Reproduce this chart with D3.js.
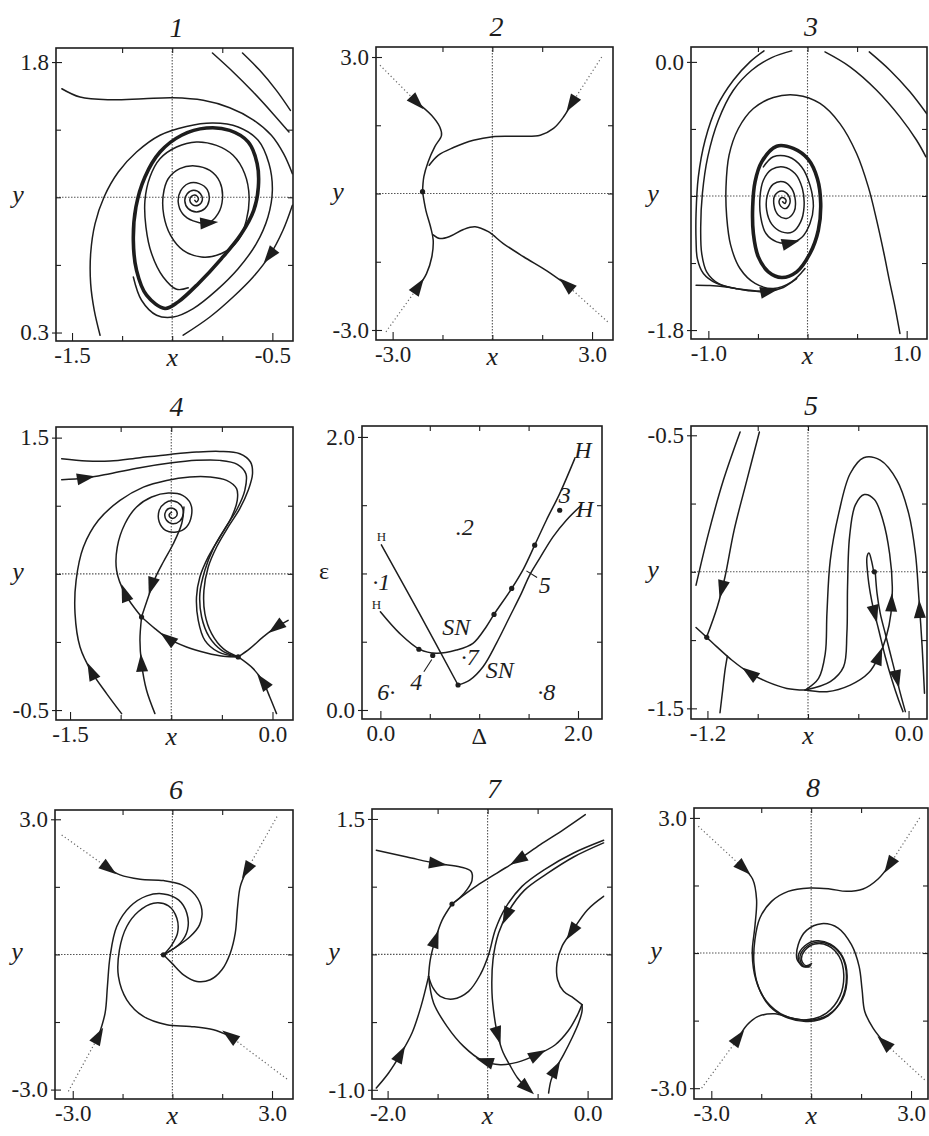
<!DOCTYPE html>
<html>
<head>
<meta charset="utf-8">
<script src="https://cdn.jsdelivr.net/npm/d3@7"></script>
<style>
  html, body { margin: 0; padding: 0; background: #fff; }
  svg { display: block; }
</style>
</head>
<body>
<svg id="fig" width="929" height="1136"></svg>
<script>
// ---------- Panel 1: limit cycle around a focus ----------
const p1X = [-1.58, -0.397], p1Y = [0.253, 1.878];
const p1XTicks = [-1.5, -0.5], p1YTicks = [0.3, 1.8];
const p1Cycle = [[-1.036,0.433],[-1.128,0.507],[-1.178,0.645],[-1.194,0.811],[-1.181,0.996],[-1.136,1.163],[-1.061,1.301],[-0.953,1.394],[-0.829,1.434],[-0.713,1.421],[-0.621,1.357],[-0.576,1.237],[-0.570,1.107],[-0.593,0.978],[-0.655,0.848],[-0.754,0.710],[-0.870,0.571],[-0.970,0.470]];
const p1Spiral = [[-0.887,1.033],[-0.879,1.024],[-0.869,1.041],[-0.882,1.061],[-0.904,1.055],[-0.912,1.033],[-0.899,1.009],[-0.870,1.006],[-0.850,1.033],[-0.859,1.070],[-0.892,1.089],[-0.925,1.070],[-0.937,1.030],[-0.920,0.987],[-0.879,0.969],[-0.837,0.987],[-0.816,1.033],[-0.825,1.092],[-0.865,1.126],[-0.920,1.126],[-0.958,1.085],[-0.970,1.024],[-0.948,0.959],[-0.895,0.919],[-0.820,0.908],[-0.771,0.959],[-0.749,1.042],[-0.762,1.135],[-0.812,1.199],[-0.887,1.224],[-0.962,1.209],[-1.020,1.153],[-1.045,1.061],[-1.042,0.950],[-1.008,0.839],[-0.945,0.756],[-0.854,0.719],[-0.754,0.738],[-0.671,0.811],[-0.630,0.922],[-0.616,1.052],[-0.638,1.181],[-0.696,1.283],[-0.779,1.338],[-0.879,1.357],[-0.978,1.329],[-1.061,1.264],[-1.111,1.163],[-1.136,1.033],[-1.131,0.885],[-1.103,0.738],[-1.045,0.608],[-0.978,0.540],[-0.920,0.548]];
const p1OuterArc = [[-1.360,0.285],[-1.389,0.423],[-1.407,0.571],[-1.407,0.738],[-1.385,0.904],[-1.340,1.052],[-1.269,1.190],[-1.178,1.301],[-1.061,1.394],[-0.929,1.443],[-0.796,1.462],[-0.671,1.440],[-0.571,1.366],[-0.517,1.237],[-0.500,1.089],[-0.522,0.941],[-0.580,0.793],[-0.671,0.654],[-0.779,0.534],[-0.895,0.433],[-0.995,0.386],[-1.078,0.396],[-1.153,0.479],[-1.194,0.608]];
const p1TopLeft = [[-1.551,1.652],[-1.460,1.606],[-1.310,1.591],[-1.144,1.597],[-0.995,1.602],[-0.845,1.588],[-0.713,1.547],[-0.596,1.480],[-0.505,1.394],[-0.444,1.292],[-0.400,1.181]];
const p1Right = [[-0.400,1.006],[-0.447,0.867],[-0.513,0.728],[-0.596,0.608],[-0.696,0.497],[-0.812,0.386],[-0.945,0.285]];
const p1TopRightA = [[-0.799,1.850],[-0.696,1.745],[-0.596,1.634],[-0.497,1.514],[-0.417,1.412]];
const p1TopRightB = [[-0.649,1.850],[-0.563,1.754],[-0.480,1.643],[-0.410,1.532]];
const p1Arrows = [[-0.820,0.908,-0.775,0.912],[-0.513,0.728,-0.596,0.608]];

// ---------- Panel 2: stable node with four incoming orbits ----------
const p2X = [-3.50, 3.63], p2Y = [-3.22, 3.22];
const p2XTicks = [-3.0, 3.0], p2YTicks = [-3.0, 3.0];
const p2Dotted = [[[-3.38,2.82],[-2.28,2.01]],[[3.29,3.00],[2.39,1.98]],[[-3.20,-3.04],[-2.23,-2.05]],[[3.47,-2.82],[2.24,-2.01]]];
const p2UpperLeft = [[-2.28,2.01],[-1.83,1.72],[-1.58,1.46],[-1.53,1.28],[-1.73,1.03],[-1.93,0.70],[-2.06,0.37],[-2.10,0.04]];
const p2LowerLeft = [[-2.23,-2.05],[-1.98,-1.76],[-1.82,-1.39],[-1.78,-1.02],[-1.86,-0.73],[-2.00,-0.37],[-2.10,0.04]];
const p2LowerRight = [[2.24,-2.01],[1.64,-1.70],[0.94,-1.39],[0.33,-1.10],[-0.12,-0.84],[-0.52,-0.73],[-0.87,-0.79],[-1.27,-0.94],[-1.58,-0.99],[-1.78,-0.91]];
const p2UpperRight = [[2.39,1.98],[2.14,1.68],[1.84,1.43],[1.44,1.28],[0.73,1.26],[0.01,1.25],[-0.57,1.17],[-1.17,1.01],[-1.63,0.84],[-1.90,0.62]];
const p2Arrows = [[-2.28,2.01,-2.00,1.80],[2.39,1.98,2.20,1.76],[-2.23,-2.05,-2.00,-1.80],[2.24,-2.01,1.95,-1.82]];
const p2Dots = [[-2.10,0.04]];

// ---------- Panel 3: focus inside a limit cycle ----------
const p3X = [-1.175, 1.205], p3Y = [-1.86, 0.10];
const p3XTicks = [-1.0, 1.0], p3YTicks = [-1.8, 0.0];
const p3Cycle = [[-0.311,-0.566],[-0.143,-0.581],[0.008,-0.655],[0.099,-0.783],[0.133,-0.950],[0.109,-1.130],[0.025,-1.286],[-0.109,-1.409],[-0.261,-1.447],[-0.395,-1.409],[-0.496,-1.309],[-0.546,-1.152],[-0.553,-0.973],[-0.529,-0.805],[-0.462,-0.671]];
const p3Spiral = [[-0.251,-0.939],[-0.227,-0.950],[-0.217,-0.928],[-0.251,-0.910],[-0.284,-0.928],[-0.271,-0.968],[-0.217,-0.984],[-0.177,-0.946],[-0.193,-0.895],[-0.261,-0.866],[-0.328,-0.895],[-0.338,-0.962],[-0.294,-1.029],[-0.210,-1.051],[-0.136,-1.006],[-0.123,-0.928],[-0.160,-0.850],[-0.244,-0.805],[-0.345,-0.821],[-0.405,-0.895],[-0.412,-0.995],[-0.361,-1.089],[-0.261,-1.141],[-0.150,-1.141],[-0.069,-1.074],[-0.035,-0.973],[-0.052,-0.850],[-0.126,-0.749],[-0.244,-0.705],[-0.361,-0.722],[-0.445,-0.794],[-0.479,-0.906],[-0.472,-1.040],[-0.419,-1.152],[-0.311,-1.208],[-0.177,-1.215],[-0.059,-1.179],[0.025,-1.085],[0.059,-0.973],[0.025,-0.828],[-0.059,-0.705],[-0.193,-0.637],[-0.345,-0.637],[-0.445,-0.705]];
const p3ArcA = [[-0.439,0.074],[-0.580,0.000],[-0.748,-0.123],[-0.916,-0.302],[-1.033,-0.526],[-1.101,-0.772],[-1.124,-1.018],[-1.124,-1.197],[-1.111,-1.320],[-1.050,-1.420],[-0.916,-1.487],[-0.714,-1.523],[-0.513,-1.537],[-0.395,-1.539],[-0.244,-1.514],[-0.109,-1.454]];
const p3ArcB = [[-0.160,0.074],[-0.361,0.029],[-0.563,-0.056],[-0.748,-0.190],[-0.899,-0.391],[-1.006,-0.637],[-1.060,-0.883],[-1.077,-1.107],[-1.067,-1.286],[-1.017,-1.409],[-0.899,-1.487],[-0.714,-1.523]];
const p3Left = [[-1.124,-1.499],[-0.983,-1.501],[-0.781,-1.514],[-0.580,-1.537],[-0.412,-1.546]];
const p3ArcC = [[0.932,-1.823],[0.882,-1.644],[0.825,-1.465],[0.771,-1.286],[0.697,-1.062],[0.613,-0.839],[0.495,-0.615],[0.327,-0.414],[0.126,-0.279],[-0.109,-0.224],[-0.345,-0.239],[-0.546,-0.313],[-0.697,-0.447],[-0.791,-0.626],[-0.822,-0.839],[-0.815,-1.040],[-0.775,-1.230],[-0.681,-1.387],[-0.529,-1.487],[-0.345,-1.521],[-0.160,-1.476],[-0.025,-1.387]];
const p3TopRightA = [[0.176,0.067],[0.428,-0.033],[0.697,-0.190],[0.932,-0.369],[1.100,-0.526],[1.194,-0.637]];
const p3TopRightB = [[0.623,0.067],[0.831,-0.056],[1.033,-0.201],[1.201,-0.347]];
const p3Arrows = [[-0.177,-1.215,-0.090,-1.200],[-0.395,-1.539,-0.270,-1.522]];

// ---------- Panel 4: focus, saddle and node ----------
const p4X = [-1.604, 0.152], p4Y = [-0.573, 1.578];
const p4XTicks = [-1.5, 0.0], p4YTicks = [-0.5, 1.5];
const p4Top = [[-1.562,1.345],[-1.377,1.328],[-1.204,1.328],[-0.982,1.353],[-0.760,1.377],[-0.563,1.394],[-0.390,1.399],[-0.242,1.382],[-0.163,1.321],[-0.148,1.235],[-0.180,1.113],[-0.242,0.978],[-0.328,0.844],[-0.414,0.697],[-0.476,0.550],[-0.508,0.379],[-0.501,0.208],[-0.451,0.061],[-0.365,-0.049],[-0.254,-0.110]];
const p4Second = [[-1.562,1.191],[-1.389,1.203],[-1.204,1.235],[-0.982,1.279],[-0.760,1.313],[-0.563,1.333],[-0.390,1.333],[-0.261,1.304],[-0.197,1.235],[-0.205,1.113],[-0.261,0.978],[-0.353,0.832],[-0.439,0.685],[-0.501,0.526],[-0.538,0.355],[-0.525,0.183],[-0.469,0.037],[-0.377,-0.061],[-0.254,-0.110]];
const p4Outer = [[-1.118,-0.526],[-1.229,-0.379],[-1.340,-0.220],[-1.426,-0.037],[-1.463,0.208],[-1.455,0.452],[-1.401,0.697],[-1.290,0.893],[-1.130,1.039],[-0.957,1.137],[-0.785,1.186],[-0.612,1.211],[-0.464,1.211],[-0.340,1.186],[-0.266,1.125],[-0.261,1.039],[-0.303,0.917],[-0.390,0.770],[-0.476,0.624],[-0.538,0.477],[-0.563,0.330],[-0.550,0.159],[-0.501,0.012],[-0.402,-0.073],[-0.254,-0.110]];
const p4ToFocus = [[-0.970,0.183],[-1.093,0.355],[-1.155,0.526],[-1.150,0.697],[-1.093,0.868],[-1.007,0.991],[-0.895,1.064],[-0.772,1.093],[-0.666,1.076],[-0.607,1.015],[-0.600,0.929],[-0.637,0.844],[-0.711,0.807],[-0.792,0.819],[-0.839,0.880],[-0.839,0.966],[-0.797,1.020],[-0.735,1.035],[-0.678,1.003],[-0.661,0.942],[-0.686,0.888],[-0.740,0.868],[-0.785,0.893],[-0.797,0.942],[-0.772,0.978],[-0.730,0.978],[-0.706,0.946],[-0.723,0.912],[-0.755,0.912],[-0.765,0.937],[-0.748,0.951]];
const p4FromAbove = [[-0.656,0.991],[-0.673,0.868],[-0.735,0.721],[-0.809,0.587],[-0.871,0.465],[-0.933,0.293],[-0.970,0.183]];
const p4FromBelow = [[-0.871,-0.526],[-0.933,-0.355],[-0.970,-0.159],[-0.982,0.012],[-0.970,0.183]];
const p4Link = [[-0.970,0.183],[-0.871,0.098],[-0.772,0.024],[-0.637,-0.037],[-0.488,-0.081],[-0.365,-0.105],[-0.254,-0.110]];
const p4FromRight = [[0.116,0.159],[0.030,0.110],[-0.069,0.037],[-0.168,-0.049],[-0.254,-0.110]];
const p4FromBottom = [[0.030,-0.526],[-0.020,-0.404],[-0.069,-0.294],[-0.143,-0.196],[-0.254,-0.110]];
const p4Arrows = [[-1.389,1.203,-1.204,1.235],[-0.895,0.416,-0.933,0.293],[-1.093,0.355,-1.155,0.526],[-0.772,0.024,-0.871,0.098],[-1.340,-0.220,-1.426,-0.037],[-0.970,-0.159,-0.982,0.012],[-0.069,-0.294,-0.143,-0.196],[0.030,0.110,-0.069,0.037]];
const p4Dots = [[-0.970,0.183],[-0.254,-0.110]];

// ---------- Bifurcation diagram in the (Δ, ε) plane ----------
const epsX = [-0.186, 2.243], epsY = [-0.066, 2.08];
const epsXTicks = [0.0, 2.0], epsYTicks = [0.0, 2.0];
const epsHopfLeft = [[0.01,1.21],[0.40,0.70],[0.786,0.183]];
const epsUpper = [[0.0,0.719],[0.195,0.561],[0.398,0.444],[0.567,0.415],[0.769,0.439],[0.937,0.488],[1.072,0.610],[1.150,0.700],[1.329,0.890],[1.450,1.036],[1.562,1.207],[1.680,1.390],[1.815,1.585],[1.967,1.841]];
const epsLower = [[0.786,0.183],[0.904,0.219],[1.039,0.317],[1.174,0.488],[1.309,0.683],[1.427,0.854],[1.511,0.988],[1.612,1.110],[1.747,1.268],[1.882,1.390],[2.034,1.500]];
const epsCurveDots = [[1.150,0.700],[1.329,0.890],[1.562,1.207],[0.786,0.183],[0.39,0.445],[0.53,0.40],[1.815,1.463]];
const epsLabels = [["·1",0.01,0.94],[".2",0.853,1.341],["3",1.865,1.573],["4",0.364,0.207],["5",1.663,0.914],["6·",0.06,0.134],["·7",0.904,0.385],["·8",1.680,0.134],["SN",0.769,0.610],["SN",1.207,0.293],["H",2.051,1.902],["H",2.068,1.475]];
const epsSmallLabels = [["H",0.01,1.268],["H",-0.04,0.775]];
const epsLeaders = [[[0.44,0.28],[0.52,0.37]],[[1.478,1.019],[1.586,0.970]]];

// ---------- Panel 5 ----------
const p5X = [-1.298, 0.110], p5Y = [-1.539, -0.466];
const p5XTicks = [-1.2, 0.0], p5YTicks = [-1.5, -0.5];
const p5LineA = [[-1.005,-0.488],[-1.105,-0.665],[-1.194,-0.860],[-1.268,-1.049]];
const p5LineB = [[-0.890,-0.488],[-0.965,-0.665],[-1.041,-0.848],[-1.095,-1.018],[-1.141,-1.128],[-1.204,-1.238]];
const p5Bottom = [[-0.617,-1.433],[-0.726,-1.427],[-0.846,-1.402],[-0.945,-1.372],[-1.055,-1.323],[-1.145,-1.274],[-1.204,-1.240],[-1.268,-1.204]];
const p5Stub = [[-1.125,-1.516],[-1.109,-1.433],[-1.095,-1.360],[-1.081,-1.309]];
const p5OuterLoop = [[0.095,-1.445],[0.081,-1.274],[0.061,-1.091],[0.041,-0.933],[0.001,-0.787],[-0.069,-0.665],[-0.169,-0.591],[-0.268,-0.582],[-0.348,-0.640],[-0.417,-0.787],[-0.467,-0.957],[-0.487,-1.152],[-0.497,-1.299],[-0.537,-1.390],[-0.617,-1.433]];
const p5InnerLoop = [[-0.617,-1.433],[-0.487,-1.439],[-0.348,-1.415],[-0.238,-1.370],[-0.178,-1.311],[-0.133,-1.238],[-0.105,-1.152],[-0.097,-1.055],[-0.113,-0.933],[-0.153,-0.811],[-0.204,-0.735],[-0.264,-0.717],[-0.318,-0.756],[-0.352,-0.872],[-0.364,-1.055],[-0.368,-1.226],[-0.388,-1.348],[-0.467,-1.402],[-0.617,-1.433]];
const p5FocusA = [[-0.208,-1.000],[-0.222,-0.957],[-0.236,-0.931],[-0.248,-0.945],[-0.244,-1.006],[-0.228,-1.079],[-0.208,-1.140],[-0.178,-1.213],[-0.139,-1.311],[-0.099,-1.396],[-0.059,-1.470],[-0.033,-1.512]];
const p5FocusB = [[-0.198,-1.006],[-0.188,-1.079],[-0.169,-1.152],[-0.139,-1.226],[-0.109,-1.299],[-0.079,-1.372],[-0.049,-1.445],[-0.019,-1.512]];
const p5Arrows = [[-1.113,-1.061,-1.141,-1.128],[-0.945,-1.372,-1.055,-1.323],[0.066,-1.140,0.058,-1.000],[-0.102,-1.116,-0.098,-1.050],[-0.178,-1.311,-0.133,-1.238],[-0.203,-1.152,-0.178,-1.213],[-0.070,-1.390,-0.050,-1.445]];
const p5Dots = [[-1.204,-1.240],[-0.204,-1.000]];

// ---------- Panel 6 ----------
const p6X = [-3.534, 3.632], p6Y = [-3.209, 3.206];
const p6XTicks = [-3.0, 3.0], p6YTicks = [-3.0, 3.0];
const p6Dotted = [[[-3.333,2.652],[-1.926,1.913]],[[3.150,3.059],[2.245,1.876]],[[-3.132,-3.039],[-2.227,-1.820]],[[3.451,-2.766],[1.743,-1.820]]];
const p6UpperLeft = [[-1.926,1.913],[-1.574,1.765],[-0.971,1.669],[-0.268,1.639],[0.285,1.543],[0.687,1.322],[0.888,0.989],[0.818,0.657],[0.537,0.398],[0.135,0.176],[-0.268,-0.009]];
const p6LowerLeft = [[-2.227,-1.820],[-2.026,-1.302],[-1.956,-0.711],[-1.876,-0.046],[-1.675,0.620],[-1.272,1.063],[-0.770,1.300],[-0.268,1.344],[0.185,1.211],[0.436,0.915],[0.456,0.546],[0.235,0.250],[-0.268,-0.009]];
const p6LowerRight = [[1.743,-1.820],[1.240,-1.672],[0.537,-1.598],[-0.167,-1.561],[-0.871,-1.376],[-1.373,-1.007],[-1.624,-0.489],[-1.594,0.102],[-1.373,0.620],[-1.021,0.952],[-0.569,1.137],[-0.117,1.078],[0.135,0.804],[0.155,0.472],[-0.016,0.213],[-0.268,-0.009]];
const p6UpperRight = [[2.245,1.876],[2.044,1.506],[1.964,1.063],[1.893,0.472],[1.743,0.028],[1.491,-0.341],[1.140,-0.563],[0.738,-0.600],[0.336,-0.452],[-0.016,-0.193],[-0.268,-0.009]];
const p6Arrows = [[-1.926,1.913,-1.65,1.76],[2.245,1.876,2.10,1.69],[-2.227,-1.820,-2.08,-1.62],[1.743,-1.820,1.45,-1.66]];
const p6Dots = [[-0.268,-0.009]];

// ---------- Panel 7 ----------
const p7X = [-2.156, 0.244], p7Y = [-1.085, 1.592];
const p7XTicks = [-2.0, 0.0], p7YTicks = [-1.0, 1.5];
const p7FromLeft = [[-2.113,1.211],[-1.806,1.149],[-1.506,1.088],[-1.273,1.057],[-1.166,1.017],[-1.156,0.934],[-1.206,0.848],[-1.280,0.771],[-1.356,0.715]];
const p7FromTop = [[-0.023,1.540],[-0.240,1.402],[-0.473,1.263],[-0.690,1.125],[-0.906,1.001],[-1.106,0.885],[-1.256,0.786],[-1.356,0.715]];
const p7Rise = [[-1.590,0.047],[-1.573,0.201],[-1.523,0.386],[-1.456,0.564],[-1.356,0.715]];
const p7FromCorner = [[-2.113,-0.984],[-1.990,-0.845],[-1.873,-0.676],[-1.756,-0.476],[-1.666,-0.230],[-1.590,0.047]];
const p7Bottom = [[-1.590,0.047],[-1.540,-0.199],[-1.406,-0.414],[-1.240,-0.599],[-1.056,-0.728],[-0.873,-0.768],[-0.706,-0.747],[-0.506,-0.676],[-0.323,-0.584],[-0.190,-0.451],[-0.100,-0.307],[-0.056,-0.214]];
const p7BandA = [[0.160,1.279],[-0.140,1.149],[-0.406,0.995],[-0.633,0.841],[-0.790,0.648],[-0.890,0.447],[-0.946,0.201],[-0.956,-0.107],[-0.933,-0.322],[-0.900,-0.491],[-0.846,-0.654],[-0.780,-0.768],[-0.700,-0.891],[-0.590,-0.999]];
const p7BandB = [[0.160,1.303],[-0.140,1.186],[-0.423,1.038],[-0.656,0.878],[-0.823,0.678],[-0.923,0.478],[-0.990,0.247],[-1.073,0.063],[-1.190,-0.091],[-1.346,-0.162],[-1.473,-0.137],[-1.546,-0.060],[-1.590,0.047]];
const p7Right = [[0.160,0.786],[0.000,0.663],[-0.156,0.463],[-0.256,0.324],[-0.306,0.170],[-0.300,0.016],[-0.240,-0.091],[-0.140,-0.153],[-0.056,-0.214]];
const p7FromBelow = [[-0.390,-1.030],[-0.366,-0.913],[-0.323,-0.814],[-0.240,-0.676],[-0.156,-0.522],[-0.090,-0.384],[-0.056,-0.276],[-0.056,-0.214]];
const p7Arrows = [[-1.506,1.088,-1.273,1.057],[-0.690,1.125,-0.906,1.001],[-1.523,0.386,-1.456,0.564],[-1.873,-0.676,-1.756,-0.476],[-1.023,-0.737,-1.150,-0.700],[-0.506,-0.676,-0.323,-0.584],[-0.810,0.610,-0.890,0.447],[-0.900,-0.491,-0.846,-0.654],[-0.610,-0.980,-0.550,-1.030],[-0.156,0.463,-0.256,0.324],[-0.323,-0.814,-0.240,-0.676]];
const p7Dots = [[-1.356,0.715]];

// ---------- Panel 8 ----------
const p8X = [-3.52, 3.51], p8Y = [-3.24, 3.22];
const p8XTicks = [-3.0, 3.0], p8YTicks = [-3.0, 3.0];
const p8Dotted = [[[-3.39,2.815],[-2.04,1.889]],[[3.26,3.00],[2.36,1.963]],[[-3.29,-3.00],[-2.19,-1.889]],[[3.41,-2.815],[2.21,-2.00]]];
const p8UpperLeft = [[-2.04,1.889],[-1.76,1.644],[-1.64,1.185],[-1.69,0.592],[-1.77,0.000],[-1.66,-0.593],[-1.34,-1.074],[-0.79,-1.393],[-0.14,-1.482],[0.46,-1.333],[0.86,-0.963],[0.98,-0.481],[0.84,-0.074],[0.51,0.163],[0.11,0.200],[-0.19,0.059],[-0.29,-0.148],[-0.16,-0.282],[0.01,-0.237]];
const p8UpperRight = [[2.36,1.963],[2.01,1.644],[1.56,1.422],[1.06,1.370],[0.56,1.422],[-0.04,1.444],[-0.69,1.370],[-1.19,1.148],[-1.54,0.778],[-1.69,0.296],[-1.72,-0.222],[-1.59,-0.741],[-1.24,-1.185],[-0.69,-1.444],[-0.09,-1.518],[0.51,-1.393],[0.91,-1.037],[1.06,-0.519],[0.91,-0.059],[0.56,0.185],[0.14,0.237],[-0.19,0.111],[-0.34,-0.111],[-0.22,-0.296],[-0.02,-0.282]];
const p8LowerLeft = [[-2.19,-1.889],[-1.92,-1.593],[-1.59,-1.407],[-1.09,-1.348],[-0.59,-1.444],[-0.04,-1.496],[0.51,-1.370],[0.94,-1.022],[1.08,-0.504],[0.94,-0.074],[0.58,0.200],[0.16,0.274],[-0.19,0.163],[-0.39,-0.074],[-0.29,-0.282],[-0.06,-0.311]];
const p8LowerRight = [[2.21,-2.000],[1.86,-1.667],[1.61,-1.296],[1.53,-0.815],[1.44,-0.296],[1.21,0.185],[0.81,0.556],[0.31,0.652],[-0.14,0.504],[-0.39,0.185],[-0.42,-0.148],[-0.24,-0.296]];
const p8Arrows = [[-2.04,1.889,-1.77,1.70],[2.36,1.963,2.20,1.78],[-2.19,-1.889,-2.00,-1.70],[2.21,-2.00,1.95,-1.82]];

// ---------- Panel registry and layout ----------
const panels = [
  { key: "1", title: "1", xDomain: p1X, yDomain: p1Y, xTicks: p1XTicks, yTicks: p1YTicks, cross: true,
    cycles: [p1Cycle], curves: [p1Spiral, p1OuterArc, p1TopLeft, p1Right, p1TopRightA, p1TopRightB], dotted: [], arrows: p1Arrows, dots: [] },
  { key: "2", title: "2", xDomain: p2X, yDomain: p2Y, xTicks: p2XTicks, yTicks: p2YTicks, cross: true,
    cycles: [], curves: [p2UpperLeft, p2LowerLeft, p2LowerRight, p2UpperRight], dotted: p2Dotted, arrows: p2Arrows, dots: p2Dots },
  { key: "3", title: "3", xDomain: p3X, yDomain: p3Y, xTicks: p3XTicks, yTicks: p3YTicks, cross: true,
    cycles: [p3Cycle], curves: [p3Spiral, p3ArcA, p3ArcB, p3Left, p3ArcC, p3TopRightA, p3TopRightB], dotted: [], arrows: p3Arrows, dots: [] },
  { key: "4", title: "4", xDomain: p4X, yDomain: p4Y, xTicks: p4XTicks, yTicks: p4YTicks, cross: true,
    cycles: [], curves: [p4Top, p4Second, p4Outer, p4ToFocus, p4FromAbove, p4FromBelow, p4Link, p4FromRight, p4FromBottom], dotted: [], arrows: p4Arrows, dots: p4Dots },
  { key: "eps", title: "", xDomain: epsX, yDomain: epsY, xTicks: epsXTicks, yTicks: epsYTicks, cross: false,
    cycles: [], curves: [epsHopfLeft, epsUpper, epsLower], dotted: [], arrows: [], dots: epsCurveDots, xLabel: "Δ", yLabel: "ε" },
  { key: "5", title: "5", xDomain: p5X, yDomain: p5Y, xTicks: p5XTicks, yTicks: p5YTicks, cross: true,
    cycles: [], curves: [p5LineA, p5LineB, p5Bottom, p5Stub, p5OuterLoop, p5InnerLoop, p5FocusA, p5FocusB], dotted: [], arrows: p5Arrows, dots: p5Dots },
  { key: "6", title: "6", xDomain: p6X, yDomain: p6Y, xTicks: p6XTicks, yTicks: p6YTicks, cross: true,
    cycles: [], curves: [p6UpperLeft, p6LowerLeft, p6LowerRight, p6UpperRight], dotted: p6Dotted, arrows: p6Arrows, dots: p6Dots },
  { key: "7", title: "7", xDomain: p7X, yDomain: p7Y, xTicks: p7XTicks, yTicks: p7YTicks, cross: true,
    cycles: [], curves: [p7FromLeft, p7FromTop, p7Rise, p7FromCorner, p7Bottom, p7BandA, p7BandB, p7Right, p7FromBelow], dotted: [], arrows: p7Arrows, dots: p7Dots },
  { key: "8", title: "8", xDomain: p8X, yDomain: p8Y, xTicks: p8XTicks, yTicks: p8YTicks, cross: true,
    cycles: [], curves: [p8UpperLeft, p8UpperRight, p8LowerLeft, p8LowerRight], dotted: p8Dotted, arrows: p8Arrows, dots: [] }
];

// frame boxes [left, top, right, bottom] in page pixels
const panelBoxes = [
  [56, 48, 293, 341], [376, 47, 613, 340], [691, 47, 927, 339],
  [56, 427, 293, 720], [362, 426, 602, 719], [691, 426, 927, 719],
  [55, 810, 293, 1099], [372, 809, 612, 1099], [694, 808, 928, 1099]
];

const FONT = "'Liberation Serif','Times New Roman',serif";
const INK = "#1d1d1d";
const svg = d3.select("#fig");
const defs = svg.append("defs");

const quarters = t => [0.25, 0.5, 0.75].map(f => t[0] + (t[1] - t[0]) * f);
const fmt = d => d.toFixed(1);

function styleAxis(g, size) {
  g.select(".domain").remove();
  g.attr("font-family", FONT).attr("font-size", size).attr("color", INK);
  g.selectAll(".tick line").attr("stroke-width", 1.1);
}

function drawPanel(p, box) {
  const [L, T, R, B] = box;
  const sx = d3.scaleLinear().domain(p.xDomain).range([L, R]);
  const sy = d3.scaleLinear().domain(p.yDomain).range([B, T]);
  const clipId = "clip-" + p.key;
  defs.append("clipPath").attr("id", clipId)
    .append("rect").attr("x", L).attr("y", T).attr("width", R - L).attr("height", B - T);

  const g = svg.append("g").attr("class", "panel-" + p.key);
  const plot = g.append("g").attr("clip-path", `url(#${clipId})`);

  const xMid = (p.xTicks[0] + p.xTicks[1]) / 2;
  const yMid = (p.yTicks[0] + p.yTicks[1]) / 2;

  // dotted cross-hair through the centre of the labelled range
  if (p.cross) {
    plot.append("line").attr("x1", sx(xMid)).attr("x2", sx(xMid)).attr("y1", T).attr("y2", B)
      .attr("stroke", "#555").attr("stroke-width", 1.1).attr("stroke-dasharray", "1.5,1.5");
    plot.append("line").attr("x1", L).attr("x2", R).attr("y1", sy(yMid)).attr("y2", sy(yMid))
      .attr("stroke", "#555").attr("stroke-width", 1.1).attr("stroke-dasharray", "1.5,1.5");
  }

  const open = d3.line().x(d => sx(d[0])).y(d => sy(d[1])).curve(d3.curveCatmullRom.alpha(0.5));
  const closed = d3.line().x(d => sx(d[0])).y(d => sy(d[1])).curve(d3.curveCatmullRomClosed.alpha(0.5));
  const straight = d3.line().x(d => sx(d[0])).y(d => sy(d[1]));

  p.dotted.forEach(c => plot.append("path").attr("d", straight(c)).attr("fill", "none")
    .attr("stroke", "#666").attr("stroke-width", 1.2).attr("stroke-dasharray", "1.2,2.6"));

  p.cycles.forEach(c => plot.append("path").attr("d", closed(c)).attr("fill", "none")
    .attr("stroke", INK).attr("stroke-width", 3.6).attr("stroke-linejoin", "round"));

  p.curves.forEach(c => plot.append("path").attr("d", open(c)).attr("fill", "none")
    .attr("stroke", INK).attr("stroke-width", 1.5).attr("stroke-linejoin", "round").attr("stroke-linecap", "round"));

  plot.selectAll("circle.dot").data(p.dots).join("circle").attr("class", "dot")
    .attr("cx", d => sx(d[0])).attr("cy", d => sy(d[1])).attr("r", 2.6).attr("fill", INK);

  // arrowheads: placed at (x, y), pointing towards (tx, ty)
  plot.selectAll("path.arrow").data(p.arrows).join("path").attr("class", "arrow")
    .attr("d", "M10,0L-8,-6L-8,6Z").attr("fill", INK)
    .attr("transform", d => {
      const x0 = sx(d[0]), y0 = sy(d[1]);
      const ang = Math.atan2(sy(d[3]) - y0, sx(d[2]) - x0) * 180 / Math.PI;
      return `translate(${x0},${y0}) rotate(${ang})`;
    });

  // frame
  g.append("rect").attr("x", L).attr("y", T).attr("width", R - L).attr("height", B - T)
    .attr("fill", "none").attr("stroke", INK).attr("stroke-width", 1.6);

  // minor ticks on all four sides
  const mx = quarters(p.xTicks), my = quarters(p.yTicks);
  styleAxis(g.append("g").attr("transform", `translate(0,${B})`)
    .call(d3.axisBottom(sx).tickValues(mx).tickSize(-5).tickFormat("")), 10);
  styleAxis(g.append("g").attr("transform", `translate(0,${T})`)
    .call(d3.axisTop(sx).tickValues(mx).tickSize(-5).tickFormat("")), 10);
  styleAxis(g.append("g").attr("transform", `translate(${L},0)`)
    .call(d3.axisLeft(sy).tickValues(my).tickSize(-5).tickFormat("")), 10);
  styleAxis(g.append("g").attr("transform", `translate(${R},0)`)
    .call(d3.axisRight(sy).tickValues(my).tickSize(-5).tickFormat("")), 10);

  // labelled ticks
  styleAxis(g.append("g").attr("transform", `translate(0,${B})`)
    .call(d3.axisBottom(sx).tickValues(p.xTicks).tickSize(-8).tickPadding(6).tickFormat(fmt)), 23);
  styleAxis(g.append("g").attr("transform", `translate(${L + 6},0)`)
    .call(d3.axisLeft(sy).tickValues(p.yTicks).tickSize(10).tickPadding(3).tickFormat(fmt)), 23);

  // axis names and panel number
  const italic = !p.xLabel;
  g.append("text").attr("x", sx(xMid)).attr("y", B + 25).attr("text-anchor", "middle")
    .attr("font-family", FONT).attr("font-size", italic ? 26 : 24)
    .attr("font-style", italic ? "italic" : "normal").attr("fill", INK).text(p.xLabel || "x");
  g.append("text").attr("x", L - 38).attr("y", sy(yMid) + 6).attr("text-anchor", "middle")
    .attr("font-family", FONT).attr("font-size", italic ? 26 : 24)
    .attr("font-style", italic ? "italic" : "normal").attr("fill", INK).text(p.yLabel || "y");
  if (p.title) {
    g.append("text").attr("x", (L + R) / 2 + 2).attr("y", T - 11).attr("text-anchor", "middle")
      .attr("font-family", FONT).attr("font-size", 28).attr("font-style", "italic")
      .attr("fill", INK).text(p.title);
  }
  return { g, sx, sy };
}

const drawn = panels.map((p, i) => drawPanel(p, panelBoxes[i]));

// annotations of the bifurcation diagram
const epsPanel = drawn[4];
epsLeaders.forEach(seg => epsPanel.g.append("line")
  .attr("x1", epsPanel.sx(seg[0][0])).attr("y1", epsPanel.sy(seg[0][1]))
  .attr("x2", epsPanel.sx(seg[1][0])).attr("y2", epsPanel.sy(seg[1][1]))
  .attr("stroke", INK).attr("stroke-width", 1.1));
epsPanel.g.selectAll("text.plabel").data(epsLabels).join("text").attr("class", "plabel")
  .attr("x", d => epsPanel.sx(d[1])).attr("y", d => epsPanel.sy(d[2]))
  .attr("text-anchor", "middle").attr("dominant-baseline", "central")
  .attr("font-family", FONT).attr("font-size", 24).attr("font-style", "italic")
  .attr("fill", INK).text(d => d[0]);
epsPanel.g.selectAll("text.slabel").data(epsSmallLabels).join("text").attr("class", "slabel")
  .attr("x", d => epsPanel.sx(d[1])).attr("y", d => epsPanel.sy(d[2]))
  .attr("text-anchor", "middle").attr("dominant-baseline", "central")
  .attr("font-family", FONT).attr("font-size", 13).attr("fill", INK).text(d => d[0]);
</script>
</body>
</html>
